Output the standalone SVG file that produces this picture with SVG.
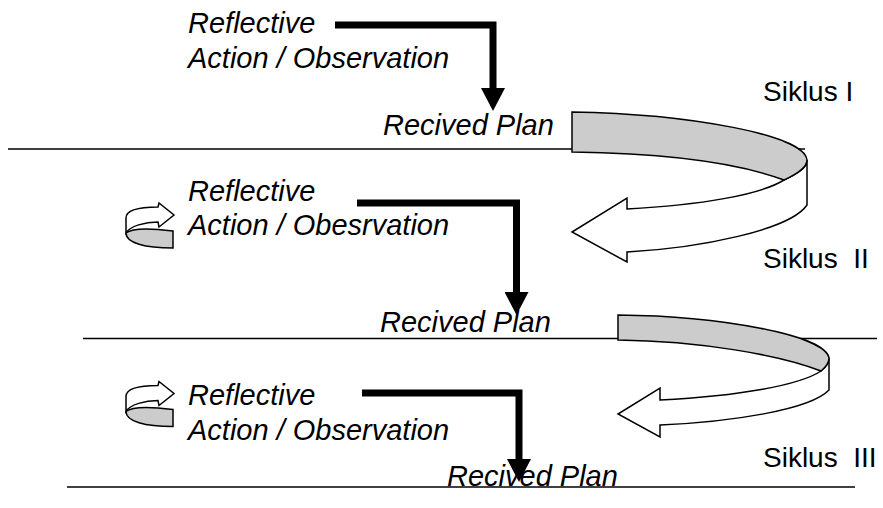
<svg xmlns="http://www.w3.org/2000/svg" xmlns:xlink="http://www.w3.org/1999/xlink" width="883" height="508" viewBox="0 0 883 508">
<style>
.it{font-family:"Liberation Sans",Arial,sans-serif;font-style:italic;font-size:29px;fill:#000}
.sk{font-family:"Liberation Sans",Arial,sans-serif;font-size:28px;fill:#000;white-space:pre}
.rule{stroke:#000;stroke-width:1.5;fill:none}
.bar{stroke:#000;stroke-width:7;fill:none;stroke-linejoin:miter}
.back{fill:#fff;stroke:#000;stroke-width:1.5;stroke-linejoin:miter}
.front{fill:#ccc;stroke:#000;stroke-width:1.5;stroke-linejoin:miter}
</style>
<defs>
<marker id="ah" markerUnits="userSpaceOnUse" markerWidth="23" markerHeight="24" viewBox="0 0 23 24" refX="0" refY="12" orient="auto">
<path d="M0,0 L23,12 L0,24 Z" fill="#000"/>
</marker>
<g id="icon">
<path class="back" d="M126,233 L126,218 C126,210 140,207 158,207 L159,203 L174,215 L159,227 L158,222 C145,222 130,226 126,233 Z"/>
<path class="front" d="M173,231 L173,248 C145,248 126,243 126,233 C132,228 150,228 173,231 Z"/>
</g>
</defs>
<g id="rules">
<line class="rule" x1="8" y1="149" x2="805" y2="149"/>
<line class="rule" x1="83" y1="338.5" x2="877" y2="338.5"/>
<line class="rule" x1="67" y1="487" x2="855" y2="487"/>
</g>
<g id="connectors">
<path class="bar" d="M335,25 H493 V88" marker-end="url(#ah)"/>
<path class="bar" d="M357,203 H516.5 V292" marker-end="url(#ah)"/>
<path class="bar" d="M362,393 H519 V459" marker-end="url(#ah)"/>
<g id="cycle1">
<path class="back" d="M807,160 L807,205 C790,230 700,248 627,252 L627,262 L572,232 L627,198 L627,209 C700,205 760,195 784,180 C797,174 807,168 807,160 Z"/>
<path class="front" d="M572,112 C690,114 805,135 807,160 C807,168 797,174 784,180 C730,160 650,153 572,152 Z"/>
</g>
<g id="cycle2">
<path class="back" d="M829,358 L829,390 C810,410 730,422 660,425 L660,437 L618,414 L660,388 L660,400 C740,396 800,385 821,371 C826,367 829,363 829,358 Z"/>
<path class="front" d="M618,315 C720,316 825,335 829,358 C829,363 826,367 821,371 C780,355 700,341 618,340 Z"/>
</g>
</g>
<g id="cycle-1">
<text class="it" x="188" y="33">Reflective</text>
<text class="it" x="188" y="68">Action / Observation</text>
<text class="it" x="383" y="135">Recived Plan</text>
<text class="sk" x="763" y="101">Siklus I</text>
</g>
<g id="cycle-2">
<use xlink:href="#icon"/>
<text class="it" x="188" y="201">Reflective</text>
<text class="it" x="188" y="235">Action / Obesrvation</text>
<text class="it" x="380" y="332">Recived Plan</text>
<text class="sk" x="763" y="268">Siklus  II</text>
</g>
<g id="cycle-3">
<use xlink:href="#icon" transform="translate(0,178.5)"/>
<text class="it" x="188" y="405">Reflective</text>
<text class="it" x="188" y="440">Action / Observation</text>
<text class="it" x="447" y="486">Recived Plan</text>
<text class="sk" x="763" y="467">Siklus  III</text>
</g>
</svg>
